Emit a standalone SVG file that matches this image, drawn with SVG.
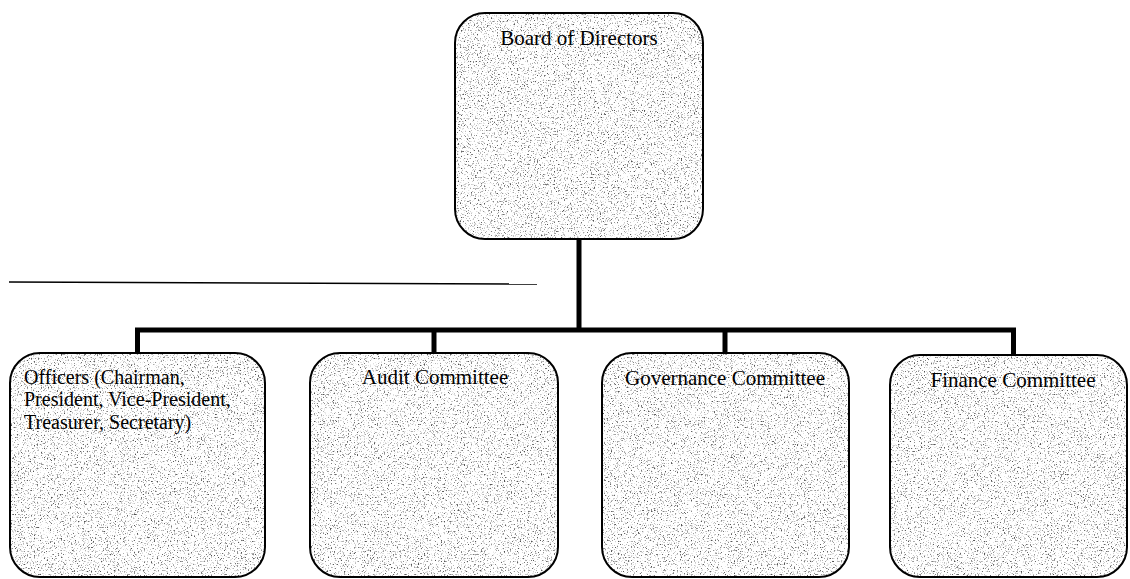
<svg xmlns="http://www.w3.org/2000/svg" width="1130" height="579" viewBox="0 0 1130 579">
  <defs>
    <filter id="grain" x="0" y="0" width="1" height="1" color-interpolation-filters="sRGB">
      <feTurbulence type="fractalNoise" baseFrequency="0.7" numOctaves="2" seed="7" result="n"/>
      <feColorMatrix in="n" type="matrix" values="0 0 0 0 0.32  0 0 0 0 0.32  0 0 0 0 0.32  4.5 0 0 0 -2.55" result="d"/>
      <feFlood flood-color="#ffffff" result="w"/>
      <feComposite in="d" in2="w" operator="over" result="m"/>
      <feComposite in="m" in2="SourceGraphic" operator="in"/>
    </filter>
  </defs>
  <style>
    .fill { fill: #ffffff; filter: url(#grain); }
    .edge { fill: none; stroke: #000000; stroke-width: 2; }
    .lbl { font-family: "Liberation Serif", "Times New Roman", serif; font-size: 21px; fill: #000000; }
    .small { font-size: 20px; }
    .mid { text-anchor: middle; }
    .conn { fill: none; stroke: #000000; stroke-width: 5; }
    .rule { stroke: #000000; stroke-width: 1.5; }
  </style>
  <rect width="1130" height="579" fill="#ffffff"/>

  <g id="rule">
    <line class="rule" x1="9" y1="282" x2="537" y2="284"/>
  </g>

  <g id="connectors">
    <line class="conn" x1="579" y1="239" x2="579" y2="330"/>
    <line class="conn" x1="135" y1="330" x2="1016" y2="330"/>
    <line class="conn" x1="137.5" y1="330" x2="137.5" y2="353"/>
    <line class="conn" x1="434" y1="330" x2="434" y2="353"/>
    <line class="conn" x1="725" y1="330" x2="725" y2="353"/>
    <line class="conn" x1="1013.5" y1="330" x2="1013.5" y2="355"/>
  </g>

  <g id="node-board">
    <rect class="fill" x="455" y="13" width="248" height="226" rx="30"/>
    <rect class="edge" x="455" y="13" width="248" height="226" rx="30"/>
    <text class="lbl mid" x="579" y="45">Board of Directors</text>
  </g>

  <g id="node-officers">
    <rect class="fill" x="10" y="353" width="255" height="224" rx="30"/>
    <rect class="edge" x="10" y="353" width="255" height="224" rx="30"/>
    <text class="lbl small" x="24" y="384">Officers (Chairman,<tspan x="24" dy="22.3">President, Vice-President,</tspan><tspan x="24" dy="22.3">Treasurer, Secretary)</tspan></text>
  </g>

  <g id="node-audit">
    <rect class="fill" x="310" y="353" width="248" height="224" rx="30"/>
    <rect class="edge" x="310" y="353" width="248" height="224" rx="30"/>
    <text class="lbl mid" x="435" y="384">Audit Committee</text>
  </g>

  <g id="node-governance">
    <rect class="fill" x="602" y="353" width="247" height="224" rx="30"/>
    <rect class="edge" x="602" y="353" width="247" height="224" rx="30"/>
    <text class="lbl mid" x="725" y="385">Governance Committee</text>
  </g>

  <g id="node-finance">
    <rect class="fill" x="890" y="355" width="237" height="222" rx="30"/>
    <rect class="edge" x="890" y="355" width="237" height="222" rx="30"/>
    <text class="lbl mid" x="1013" y="387">Finance Committee</text>
  </g>
</svg>
